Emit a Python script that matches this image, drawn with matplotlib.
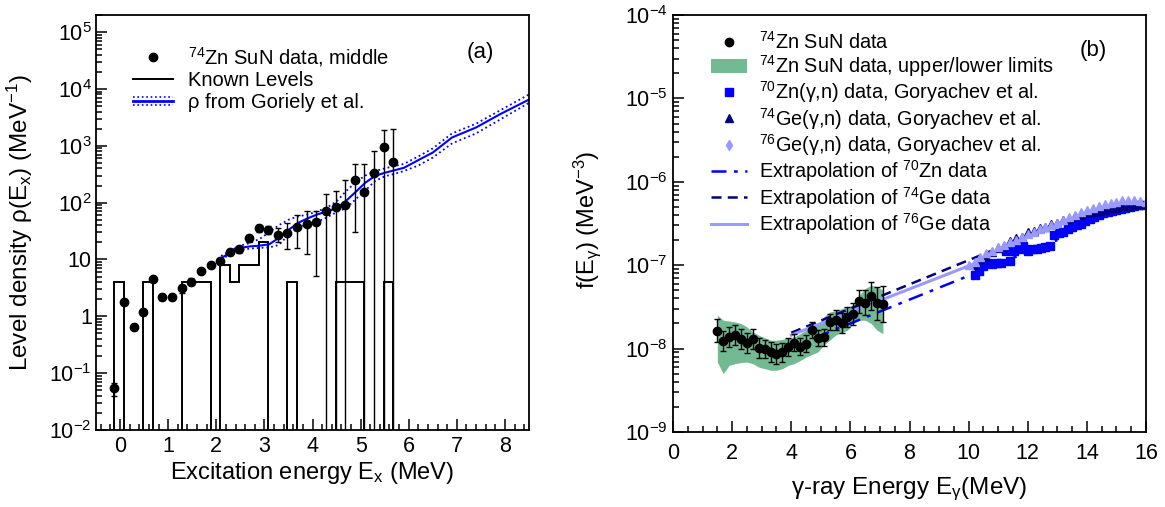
import numpy as np
import matplotlib
matplotlib.use('Agg')
import matplotlib.pyplot as plt
from matplotlib.lines import Line2D
from matplotlib.patches import Patch
from matplotlib.legend_handler import HandlerBase
from matplotlib.ticker import FixedLocator, FixedFormatter, LogLocator, NullFormatter, MultipleLocator

plt.rcParams['font.family'] = ['Liberation Sans', 'DejaVu Sans']
plt.rcParams['mathtext.fontset'] = 'custom'
plt.rcParams['mathtext.rm'] = 'Liberation Sans'
plt.rcParams['mathtext.it'] = 'Liberation Sans:italic'
plt.rcParams['mathtext.bf'] = 'Liberation Sans:bold'

# ---------------- panel (a): level density ----------------
ex = [-0.12, 0.08, 0.28, 0.48, 0.68, 0.88, 1.08, 1.28, 1.48, 1.68, 1.88, 2.08, 2.28, 2.48, 2.68,
      2.88, 3.08, 3.28, 3.48, 3.68, 3.88, 4.08, 4.28, 4.48, 4.68, 4.88, 5.08, 5.28, 5.48, 5.68]
rho = [0.054, 1.78, 0.65, 1.19, 4.6, 2.18, 2.2, 3.1, 4.06, 6.2, 8.1, 9.3, 13.4, 15.0, 23.4,
       35.5, 33.6, 27.0, 29.4, 38.0, 42.7, 45.0, 70.0, 84.0, 92.0, 253.0, 151.0, 332.0, 950.0, 516.0]
rho_hi = [0.068, 2.0, 0.72, 1.32, 5.0, 2.45, 2.5, 3.6, 4.7, 6.9, 8.9, 10.2, 14.8, 17.0, 27.0,
          40.0, 39.0, 36.0, 44.0, 60.0, 72.0, 71.0, 144.0, 162.0, 253.0, 480.0, 478.0, 795.0, 1910.0, 1990.0]
# lower ends; 0 means the bar runs down to zero
rho_lo = [0.040, 1.58, 0.58, 1.07, 4.2, 1.9, 1.9, 2.6, 3.5, 5.6, 7.4, 8.5, 12.1, 13.0, 20.0,
          31.0, 28.0, 20.0, 15.4, 16.0, 12.3, 5.1, 0.0, 0.0, 0.0, 31.0, 0.0, 0.0, 0.0, 0.0]

lvl_edges = [-0.12, 0.08, 0.28, 0.48, 0.68, 0.88, 1.08, 1.28, 1.48, 1.68, 1.88, 2.08, 2.28, 2.48, 2.68,
             2.88, 3.08, 3.28, 3.48, 3.68, 3.88, 4.08, 4.28, 4.48, 4.68, 4.88, 5.08, 5.28, 5.48, 5.68]
lvl_vals = [4, 0, 0, 4, 0, 0, 0, 4, 4, 4, 0, 8, 4, 8, 8,
            20, 0, 0, 4, 0, 0, 0, 0, 4, 4, 4, 0, 0, 4]

gor_e = [2.1, 2.3, 2.5, 2.7, 2.9, 3.1, 3.3, 3.5, 3.7, 3.9, 4.1, 4.3, 4.5, 4.7, 4.9,
         5.1, 5.3, 5.5, 5.7, 5.9, 6.2, 6.5, 6.9, 7.4, 7.9, 8.5]
gor_mid = [10.5, 13.5, 16, 17, 17.5, 18.5, 24, 33, 44, 53, 62, 70, 80, 108, 155,
           225, 295, 335, 370, 410, 560, 760, 1400, 2100, 3600, 6500]
gor_up = [11.5, 14.5, 17.5, 19.5, 23, 30, 40, 50, 57, 62, 70, 82, 105, 160, 230,
          300, 360, 400, 440, 480, 650, 900, 1650, 2450, 4200, 8000]
gor_lo = [10, 12.5, 15, 15.5, 16, 16.3, 18, 27, 36, 42, 46, 55, 68, 80, 115,
          165, 240, 290, 320, 360, 450, 620, 1100, 1650, 2900, 5700]

yt_a = [1e-2, 1e-1, 1, 10, 1e2, 1e3, 1e4, 1e5]
ytl_a = ['$10^{-2}$', '$10^{-1}$', '1', '10', '$10^{2}$', '$10^{3}$', '$10^{4}$', '$10^{5}$']

# ---------------- panel (b): gamma strength ----------------
sun_e = [1.5, 1.7, 1.9, 2.1, 2.3, 2.5, 2.7, 2.9, 3.1, 3.3, 3.5, 3.7, 3.9, 4.1, 4.3,
         4.5, 4.7, 4.9, 5.1, 5.3, 5.5, 5.7, 5.9, 6.1, 6.3, 6.5, 6.7, 6.9, 7.1]
sun_f = [1.64e-8, 1.24e-8, 1.39e-8, 1.44e-8, 1.32e-8, 1.18e-8, 1.29e-8, 1.01e-8, 9.9e-9, 9.0e-9,
         8.6e-9, 9.0e-9, 1.05e-8, 1.18e-8, 1.05e-8, 1.15e-8, 1.67e-8, 1.34e-8, 1.37e-8, 2.08e-8,
         2.20e-8, 2.04e-8, 2.37e-8, 2.60e-8, 3.69e-8, 3.55e-8, 4.27e-8, 3.49e-8, 3.43e-8]
# error size in decades
sun_err = [0.14, 0.12, 0.12, 0.12, 0.12, 0.12, 0.12, 0.12, 0.11, 0.12, 0.12, 0.11, 0.11, 0.10, 0.10,
           0.10, 0.10, 0.10, 0.10, 0.10, 0.12, 0.12, 0.12, 0.13, 0.14, 0.15, 0.17, 0.20, 0.22]
band_hi = [2.51e-8, 2.19e-8, 2.14e-8, 2.09e-8, 2.0e-8, 1.82e-8, 1.58e-8, 1.45e-8, 1.35e-8, 1.26e-8,
           1.26e-8, 1.29e-8, 1.35e-8, 1.38e-8, 1.51e-8, 1.66e-8, 1.82e-8, 1.91e-8, 2.40e-8, 2.75e-8,
           2.82e-8, 3.02e-8, 3.16e-8, 3.31e-8, 4.37e-8, 5.25e-8, 5.75e-8, 5.50e-8, 5.01e-8]
band_lo = [6.9e-9, 5.0e-9, 6.3e-9, 6.6e-9, 6.8e-9, 6.9e-9, 6.6e-9, 6.0e-9, 5.75e-9, 5.5e-9,
           5.5e-9, 5.75e-9, 6.3e-9, 6.6e-9, 7.2e-9, 7.9e-9, 8.5e-9, 9.1e-9, 1.10e-8, 1.26e-8,
           1.45e-8, 1.55e-8, 1.66e-8, 2.0e-8, 2.19e-8, 2.19e-8, 2.0e-8, 1.66e-8, 1.51e-8]

zn70_e = [10.2, 10.35, 10.5, 10.65, 10.8, 10.95, 11.1, 11.25, 11.4, 11.55, 11.7, 11.85, 12.0, 12.15,
          12.3, 12.45, 12.6, 12.75, 12.9, 13.05, 13.2, 13.35, 13.5, 13.65, 13.8, 13.95, 14.1, 14.25,
          14.4, 14.55, 14.7, 14.85, 15.0, 15.15, 15.3, 15.45, 15.6, 15.75, 15.9]
zn70_f = [7.6e-8, 8.6e-8, 9.8e-8, 1.05e-7, 1.02e-7, 1.05e-7, 1.07e-7, 1.5e-7, 1.12e-7, 1.5e-7,
          1.55e-7, 1.7e-7, 1.5e-7, 1.55e-7, 1.58e-7, 1.62e-7, 1.65e-7, 1.68e-7, 2.3e-7, 2.4e-7,
          2.5e-7, 2.7e-7, 2.85e-7, 3.0e-7, 3.1e-7, 3.4e-7, 3.6e-7, 3.8e-7, 4.0e-7, 4.2e-7,
          4.35e-7, 4.5e-7, 4.6e-7, 4.75e-7, 4.9e-7, 5.0e-7, 5.15e-7, 5.25e-7, 5.3e-7]
ge74_e = [10.2, 10.4, 10.6, 10.8, 11.0, 11.2, 11.4, 11.6, 11.8, 12.0, 12.2, 12.4, 12.6, 12.8, 13.0,
          13.2, 13.4, 13.6, 13.8, 14.0, 14.2, 14.4, 14.6, 14.8, 15.0, 15.2, 15.4, 15.6, 15.8, 16.0]
ge74_f = [1.0e-7, 1.2e-7, 1.25e-7, 1.45e-7, 1.6e-7, 1.7e-7, 1.95e-7, 2.1e-7, 2.2e-7, 2.5e-7,
          2.55e-7, 2.8e-7, 2.85e-7, 3.1e-7, 3.25e-7, 3.5e-7, 3.6e-7, 3.85e-7, 3.95e-7, 4.2e-7,
          4.3e-7, 4.5e-7, 4.6e-7, 4.8e-7, 4.9e-7, 5.1e-7, 5.15e-7, 5.3e-7, 5.35e-7, 5.4e-7]
ge76_e = [10.0, 10.2, 10.4, 10.6, 10.8, 11.0, 11.2, 11.4, 11.6, 11.8, 12.0, 12.2, 12.4, 12.6, 12.8,
          13.0, 13.2, 13.4, 13.6, 13.8, 14.0, 14.2, 14.4, 14.6, 14.8, 15.0, 15.2, 15.4, 15.6, 15.8, 16.0]
ge76_f = [1.0e-7, 1.1e-7, 1.25e-7, 1.4e-7, 1.5e-7, 1.65e-7, 1.75e-7, 1.9e-7, 2.0e-7, 2.2e-7,
          2.35e-7, 2.5e-7, 2.7e-7, 2.85e-7, 3.0e-7, 3.25e-7, 3.5e-7, 3.75e-7, 4.0e-7, 4.3e-7,
          4.6e-7, 4.85e-7, 5.1e-7, 5.4e-7, 5.6e-7, 5.8e-7, 6.0e-7, 6.05e-7, 6.0e-7, 5.9e-7, 5.8e-7]

ext70_e = [4.8, 13.0]
ext70_f = [1.35e-8, 2.0e-7]
ext74_e = [4.0, 10.8]
ext74_f = [1.55e-8, 1.5e-7]
ext76_e = [4.0, 10.5]
ext76_f = [1.45e-8, 1.15e-7]

yt_b = [1e-9, 1e-8, 1e-7, 1e-6, 1e-5, 1e-4]
ytl_b = ['$10^{-9}$', '$10^{-8}$', '$10^{-7}$', '$10^{-6}$', '$10^{-5}$', '$10^{-4}$']

BLUE = '#0000ff'
NAVY = '#000080'
LAV = '#9999ff'
GREEN = '#72bb92'


class HandlerGoriely(HandlerBase):
    def create_artists(self, legend, orig_handle, xdescent, ydescent, width, height, fontsize, trans):
        y = height / 2 - ydescent
        arts = []
        for dy, ls, lw in [(0, '-', 2.0), (0.28 * height, ':', 1.2), (-0.28 * height, ':', 1.2)]:
            arts.append(Line2D([-xdescent, width - xdescent], [y + dy, y + dy], color=BLUE,
                               ls=ls, lw=lw, transform=trans))
        return arts


def style_axis(ax):
    for s in ax.spines.values():
        s.set_linewidth(1.3)
    ax.tick_params(which='both', direction='in', labelsize=15.5, width=1.1)
    ax.tick_params(which='major', length=8)
    ax.tick_params(which='minor', length=4.3)


fig = plt.figure(figsize=(11.65, 5.07), dpi=100)
W, H = 1165.0, 507.0
ax1 = fig.add_axes([96 / W, (H - 430) / H, 433 / W, 415 / H])
ax2 = fig.add_axes([673 / W, (H - 432) / H, 473 / W, 417 / H])

# ---- panel (a)
ax1.set_yscale('log')
ax1.stairs(lvl_vals, lvl_edges, color='black', lw=1.4)
ax1.plot(gor_e, gor_up, color=BLUE, ls=':', lw=1.3)
ax1.plot(gor_e, gor_lo, color=BLUE, ls=':', lw=1.3)
ax1.plot(gor_e, gor_mid, color=BLUE, ls='-', lw=1.5)
rho_a = np.array(rho)
err_lo = rho_a - np.maximum(np.array(rho_lo), 1e-4)
err_hi = np.array(rho_hi) - rho_a
ax1.errorbar(ex, rho, yerr=[err_lo, err_hi], fmt='o', color='black', ms=6, capsize=2,
             elinewidth=1, capthick=1)
ax1.set_xlim(-0.5, 8.5)
ax1.set_ylim(1e-2, 2e5)
ax1.xaxis.set_major_locator(MultipleLocator(1))
ax1.xaxis.set_minor_locator(MultipleLocator(0.2))
ax1.yaxis.set_major_locator(FixedLocator(yt_a))
ax1.yaxis.set_major_formatter(FixedFormatter(ytl_a))
ax1.yaxis.set_minor_locator(LogLocator(base=10, subs=np.arange(2, 10)))
ax1.yaxis.set_minor_formatter(NullFormatter())
style_axis(ax1)
ax1.tick_params(axis='y', pad=3)
ax1.tick_params(axis='x', pad=4)
ax1.set_xlabel('Excitation energy E$_\\mathrm{x}$ (MeV)', fontsize=17)
ax1.xaxis.set_label_coords(0.5, -0.072)
ax1.set_ylabel('Level density \u03c1(E$_\\mathrm{x}$) (MeV$^{-1}$)', fontsize=17.5)
ax1.yaxis.set_label_coords(-0.14, 0.5)
ax1.text(0.887, 0.91, '(a)', transform=ax1.transAxes, fontsize=16, ha='center', va='center')

h1 = [Line2D([], [], marker='o', color='black', ls='none', ms=6),
      Line2D([], [], color='black', lw=1.4),
      object()]
l1 = ['$^{74}$Zn SuN data, middle', 'Known Levels', '\u03c1 from Goriely et al.']
ax1.legend(h1, l1, loc='upper left', bbox_to_anchor=(0.085, 0.928), frameon=False, fontsize=14.5,
           handlelength=2.0, handletextpad=0.75, labelspacing=0.12, borderpad=0, borderaxespad=0,
           handler_map={object: HandlerGoriely()})

# ---- panel (b)
ax2.set_yscale('log')
ax2.fill_between(sun_e, band_lo, band_hi, color=GREEN, lw=0)
ax2.plot(ext70_e, ext70_f, color=BLUE, ls=(0, (6, 3, 1.5, 3)), lw=1.8)
ax2.plot(ext74_e, ext74_f, color=NAVY, ls=(0, (4, 2.5)), lw=1.8)
ax2.plot(ext76_e, ext76_f, color=LAV, ls='-', lw=2.2)
ax2.plot(zn70_e, zn70_f, 's', color=BLUE, ms=5.5, mec=BLUE)
ax2.plot(ge74_e, ge74_f, '^', color=NAVY, ms=5.5)
ax2.plot(ge76_e, ge76_f, '^', color=LAV, ms=5.5)
sf = np.array(sun_f)
se = np.array(sun_err)
ax2.errorbar(sun_e, sun_f, yerr=[sf - sf / 10 ** se, sf * 10 ** se - sf], fmt='o', color='black',
             ms=6, capsize=2, elinewidth=1, capthick=1)
ax2.set_xlim(0, 16)
ax2.set_ylim(1e-9, 1e-4)
ax2.xaxis.set_major_locator(MultipleLocator(2))
ax2.xaxis.set_minor_locator(MultipleLocator(0.5))
ax2.yaxis.set_major_locator(FixedLocator(yt_b))
ax2.yaxis.set_major_formatter(FixedFormatter(ytl_b))
ax2.yaxis.set_minor_locator(LogLocator(base=10, subs=np.arange(2, 10)))
ax2.yaxis.set_minor_formatter(NullFormatter())
style_axis(ax2)
ax2.tick_params(axis='y', pad=4)
ax2.tick_params(axis='x', pad=8)
ax2.set_xlabel('\u03b3-ray Energy E$_\\mathrm{\u03b3}$(MeV)', fontsize=17.5)
ax2.xaxis.set_label_coords(0.5, -0.105)
ax2.set_ylabel('f(E$_\\mathrm{\u03b3}$) (MeV$^{-3}$)', fontsize=17)
ax2.yaxis.set_label_coords(-0.148, 0.51)
ax2.text(0.888, 0.915, '(b)', transform=ax2.transAxes, fontsize=16, ha='center', va='center')

h2 = [Line2D([], [], marker='o', color='black', ls='none', ms=6),
      Patch(color=GREEN, lw=0),
      Line2D([], [], marker='s', color=BLUE, ls='none', ms=5.5),
      Line2D([], [], marker='^', color=NAVY, ls='none', ms=5.5),
      Line2D([], [], marker='d', color=LAV, ls='none', ms=5),
      Line2D([], [], color=BLUE, ls=(0, (6, 3, 1.5, 3)), lw=1.8),
      Line2D([], [], color=NAVY, ls=(0, (4, 2.5)), lw=1.8),
      Line2D([], [], color=LAV, lw=2.2)]
l2 = ['$^{74}$Zn SuN data',
      '$^{74}$Zn SuN data, upper/lower limits',
      '$^{70}$Zn(\u03b3,n) data, Goryachev et al.',
      '$^{74}$Ge(\u03b3,n) data, Goryachev et al.',
      '$^{76}$Ge(\u03b3,n) data, Goryachev et al.',
      'Extrapolation of $^{70}$Zn data',
      'Extrapolation of $^{74}$Ge data',
      'Extrapolation of $^{76}$Ge data']
ax2.legend(h2, l2, loc='upper left', bbox_to_anchor=(0.08, 0.962), frameon=False, fontsize=14.3,
           handlelength=1.8, handletextpad=0.6, labelspacing=0.02, borderpad=0, borderaxespad=0)

fig.savefig('out.png', dpi=100)
